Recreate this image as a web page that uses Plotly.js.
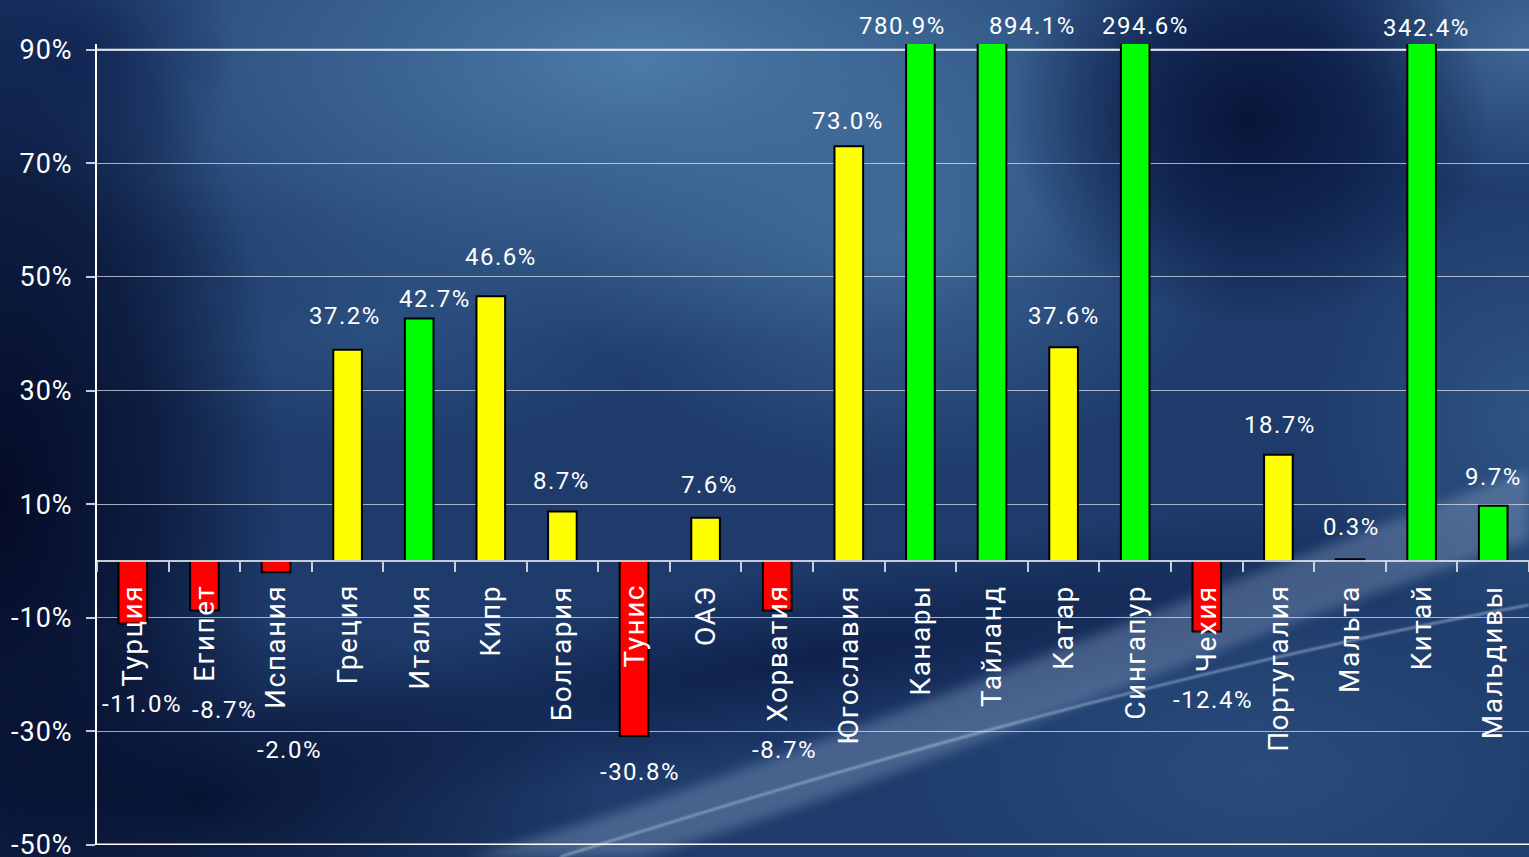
<!DOCTYPE html>
<html>
<head>
<meta charset="utf-8">
<script src="https://cdn.plot.ly/plotly-3.0.1.min.js"></script>
<style>
  html, body { margin: 0; padding: 0; width: 1529px; height: 857px; overflow: hidden; background: #1d3a6a; }
  #bg { position: absolute; left: 0; top: 0; }
  #chart { position: absolute; left: 0; top: 0; width: 1529px; height: 857px; }
  .annotation-text { letter-spacing: 1.5px; }
  .ytick text { letter-spacing: 1px; }
</style>
</head>
<body>
<svg id="bg" width="1529" height="857" xmlns="http://www.w3.org/2000/svg">
  <defs>
    <radialGradient id="g1" gradientUnits="userSpaceOnUse" cx="640" cy="60" r="640" gradientTransform="translate(640 60) scale(1 0.45) translate(-640 -60)">
      <stop offset="0" stop-color="#4f7fac" stop-opacity="0.95"/>
      <stop offset="0.6" stop-color="#416c9a" stop-opacity="0.6"/>
      <stop offset="1" stop-color="#416c9a" stop-opacity="0"/>
    </radialGradient>
    <radialGradient id="g2" gradientUnits="userSpaceOnUse" cx="900" cy="240" r="340" gradientTransform="translate(900 240) scale(1 0.7) translate(-900 -240)">
      <stop offset="0" stop-color="#4674a2" stop-opacity="0.75"/>
      <stop offset="1" stop-color="#4674a2" stop-opacity="0"/>
    </radialGradient>
    <radialGradient id="g3" gradientUnits="userSpaceOnUse" cx="1250" cy="120" r="240" gradientTransform="translate(1250 120) scale(1 0.85) translate(-1250 -120)">
      <stop offset="0" stop-color="#071336" stop-opacity="0.95"/>
      <stop offset="0.5" stop-color="#0a1a44" stop-opacity="0.7"/>
      <stop offset="1" stop-color="#0a1a44" stop-opacity="0"/>
    </radialGradient>
    <radialGradient id="g4" gradientUnits="userSpaceOnUse" cx="0" cy="500" r="280" gradientTransform="translate(0 500) scale(1 2) translate(0 -500)">
      <stop offset="0" stop-color="#040b26" stop-opacity="1"/>
      <stop offset="0.55" stop-color="#06102e" stop-opacity="0.7"/>
      <stop offset="1" stop-color="#06102e" stop-opacity="0"/>
    </radialGradient>
    <radialGradient id="g5" gradientUnits="userSpaceOnUse" cx="200" cy="800" r="400" gradientTransform="translate(200 800) scale(1 0.45) translate(-200 -800)">
      <stop offset="0" stop-color="#050e2c" stop-opacity="0.85"/>
      <stop offset="1" stop-color="#050e2c" stop-opacity="0"/>
    </radialGradient>
    <radialGradient id="g6" gradientUnits="userSpaceOnUse" cx="1529" cy="40" r="220" gradientTransform="translate(1529 40) scale(1 0.7) translate(-1529 -40)">
      <stop offset="0" stop-color="#46709e" stop-opacity="0.85"/>
      <stop offset="1" stop-color="#46709e" stop-opacity="0"/>
    </radialGradient>
    <radialGradient id="g7" gradientUnits="userSpaceOnUse" cx="800" cy="660" r="760" gradientTransform="translate(800 660) rotate(-10) scale(1 0.12) translate(-800 -660)">
      <stop offset="0" stop-color="#0a1942" stop-opacity="0.75"/>
      <stop offset="1" stop-color="#0a1942" stop-opacity="0"/>
    </radialGradient>
    <radialGradient id="g8" gradientUnits="userSpaceOnUse" cx="1260" cy="770" r="380" gradientTransform="translate(1260 770) scale(1 0.5) translate(-1260 -770)">
      <stop offset="0" stop-color="#2c5080" stop-opacity="0.8"/>
      <stop offset="1" stop-color="#2c5080" stop-opacity="0"/>
    </radialGradient>
    <radialGradient id="g9" gradientUnits="userSpaceOnUse" cx="70" cy="60" r="170" gradientTransform="translate(70 60) scale(1 0.8) translate(-70 -60)">
      <stop offset="0" stop-color="#0e2150" stop-opacity="0.8"/>
      <stop offset="1" stop-color="#0e2150" stop-opacity="0"/>
    </radialGradient>
    <radialGradient id="g10" gradientUnits="userSpaceOnUse" cx="1529" cy="420" r="220" gradientTransform="translate(1529 420) scale(1 1.1) translate(-1529 -420)">
      <stop offset="0" stop-color="#3a6595" stop-opacity="0.6"/>
      <stop offset="1" stop-color="#3a6595" stop-opacity="0"/>
    </radialGradient>
    <radialGradient id="g11" gradientUnits="userSpaceOnUse" cx="380" cy="330" r="300" gradientTransform="translate(380 330) scale(1 0.4) translate(-380 -330)">
      <stop offset="0" stop-color="#335d8d" stop-opacity="0.6"/>
      <stop offset="1" stop-color="#335d8d" stop-opacity="0"/>
    </radialGradient>
    <filter id="soft" x="-10%" y="-10%" width="120%" height="120%"><feGaussianBlur stdDeviation="6"/></filter>
    <filter id="thin" x="-10%" y="-10%" width="120%" height="120%"><feGaussianBlur stdDeviation="1.2"/></filter>
  </defs>
  <rect width="1529" height="857" fill="#1e3b6b"/>
  <rect width="1529" height="857" fill="url(#g1)"/>
  <rect width="1529" height="857" fill="url(#g2)"/>
  <rect width="1529" height="857" fill="url(#g11)"/>
  <rect width="1529" height="857" fill="url(#g6)"/>
  <rect width="1529" height="857" fill="url(#g10)"/>
  <rect width="1529" height="857" fill="url(#g8)"/>
  <rect width="1529" height="857" fill="url(#g3)"/>
  <rect width="1529" height="857" fill="url(#g7)"/>
  <rect width="1529" height="857" fill="url(#g4)"/>
  <rect width="1529" height="857" fill="url(#g5)"/>
  <rect width="1529" height="857" fill="url(#g9)"/>
  <path d="M 470 857 C 780 770, 1120 620, 1529 470 L 1529 540 C 1200 650, 880 790, 640 857 Z" fill="#a4bedc" opacity="0.3" filter="url(#soft)"/>
  <path d="M 560 857 C 850 765, 1200 665, 1529 605" stroke="#c8dcf0" stroke-width="2" fill="none" opacity="0.6" filter="url(#thin)"/>
  <path d="M 1069 820 L 1069 857" stroke="#c8dcf0" stroke-width="1.5" opacity="0.5" filter="url(#thin)"/>
</svg>
<div id="chart"></div>
<script>
// ---- data ----
const countries = ['Турция','Египет','Испания','Греция','Италия','Кипр','Болгария','Тунис','ОАЭ','Хорватия',
                   'Югославия','Канары','Тайланд','Катар','Сингапур','Чехия','Португалия','Мальта','Китай','Мальдивы'];
const growth = [-11.0, -8.7, -2.0, 37.2, 42.7, 46.6, 8.7, -30.8, 7.6, -8.7,
                73.0, 780.9, 894.1, 37.6, 294.6, -12.4, 18.7, 0.3, 342.4, 9.7];
const barColors = ['#ff0000','#ff0000','#ff0000','#ffff00','#00ff00','#ffff00','#ffff00','#ff0000','#ffff00','#ff0000',
                   '#ffff00','#00ff00','#00ff00','#ffff00','#00ff00','#ff0000','#ffff00','#ffff00','#00ff00','#00ff00'];
const yTickVals = [-50, -30, -10, 10, 30, 50, 70, 90];
const yTickText = ['-50%', '-30%', '-10%', '10%', '30%', '50%', '70%', '90%'];

// ---- label placement (pixel nudges, as in the original slide) ----
const labelDX = [9, 20, 13, -3, 16, 10, -1, 6, 4, 7, -1, -18, 40, 0, 10, 6, 2, 1, 5, 0];
const labelDY = [-81, -100, -178, 34, 19, 39, 31, -36, 33, -140, 25, 24, 24, 31, 24, -69, 30, 32, 22, 29];

const yMin = -50, yMax = 91;
const font = 'Roboto, "Open Sans", Arial, sans-serif';

const trace = {
  type: 'bar',
  x: countries,
  y: growth,
  width: 0.4,
  marker: { color: barColors, line: { color: '#000000', width: 2 } },
  hoverinfo: 'x+y',
  showlegend: false
};

const annotations = [];
countries.forEach((c, i) => {
  annotations.push({
    x: c, y: 0, xref: 'x', yref: 'y',
    text: c, textangle: -90, showarrow: false,
    xanchor: 'center', yanchor: 'top', yshift: -22,
    font: { family: font, size: 28, color: '#ffffff' }
  });
  const v = growth[i];
  annotations.push({
    x: c, y: Math.max(Math.min(v, 90), yMin), xref: 'x', yref: 'y',
    text: v.toFixed(1) + '%', showarrow: false,
    xanchor: 'center', yanchor: 'middle',
    xshift: labelDX[i], yshift: labelDY[i],
    font: { family: font, size: 24, color: '#ffffff' }
  });
});

const layout = {
  width: 1529, height: 857,
  margin: { l: 97, r: 0, t: 44, b: 12, pad: 0 },
  paper_bgcolor: 'rgba(0,0,0,0)',
  plot_bgcolor: 'rgba(0,0,0,0)',
  font: { family: font, color: '#ffffff' },
  bargap: 0.6,
  xaxis: {
    type: 'category',
    range: [-0.5, 19.5],
    anchor: 'free',
    position: (0 - yMin) / (yMax - yMin),
    showline: true, linecolor: 'rgba(215,222,235,0.9)', linewidth: 1.5,
    ticks: 'outside', tickson: 'boundaries', ticklen: 10, tickwidth: 1.5,
    tickcolor: 'rgba(215,222,235,0.9)',
    showticklabels: false, showgrid: false, zeroline: false, fixedrange: true
  },
  yaxis: {
    range: [yMin, yMax],
    tickmode: 'array', tickvals: yTickVals, ticktext: yTickText,
    ticks: 'outside', ticklen: 9, tickwidth: 1.5, tickcolor: 'rgba(215,222,235,0.9)',
    ticklabelstandoff: 8, ticklabeloverflow: 'allow',
    tickfont: { family: font, size: 27, color: '#ffffff' },
    showgrid: true, gridcolor: 'rgba(215,222,235,0.75)', gridwidth: 1.2,
    showline: true, linecolor: '#ffffff', linewidth: 2,
    zeroline: false, fixedrange: true
  },
  shapes: [
    { type: 'line', xref: 'paper', yref: 'y', x0: 0, x1: 1, y0: 90, y1: 90, line: { color: '#ffffff', width: 2 }, layer: 'below' },
    { type: 'line', xref: 'paper', yref: 'y', x0: 0, x1: 1, y0: -50, y1: -50, line: { color: '#ffffff', width: 3 }, layer: 'below' }
  ],
  annotations: annotations
};

Plotly.newPlot('chart', [trace], layout, { displayModeBar: false });
</script>
</body>
</html>
